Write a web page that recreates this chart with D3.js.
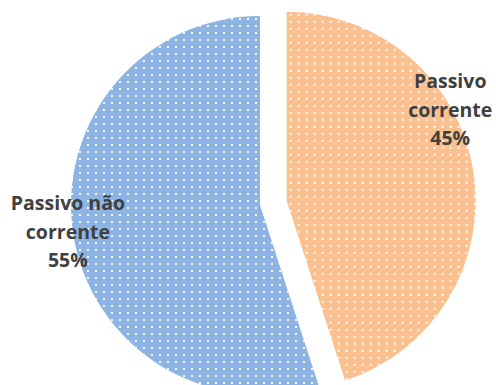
<!DOCTYPE html>
<html>
<head>
<meta charset="utf-8">
<script src="https://cdn.jsdelivr.net/npm/d3@7"></script>
<style>
  html, body { margin: 0; padding: 0; background: #ffffff; }
  svg { display: block; }
</style>
</head>
<body>
<svg id="chart" width="496" height="385"></svg>
<script>
// Composição do passivo
const categories = ["Passivo corrente", "Passivo não corrente"];
const values = [45, 55];
const labelLines = [["Passivo", "corrente", "45%"], ["Passivo não", "corrente", "55%"]];
const colors = ["#FAC090", "#8DB4E2"];
const explode = [27, 0];

const width = 496, height = 385;
const cx = 260, cy = 205, radius = 189;

const svg = d3.select("#chart");
const defs = svg.append("defs");

// dotted fill, one pattern per slice colour
colors.forEach((c, i) => {
  const p = defs.append("pattern")
    .attr("id", "dots" + i)
    .attr("patternUnits", "userSpaceOnUse")
    .attr("width", 8).attr("height", 7);
  p.append("rect").attr("width", 8).attr("height", 7).attr("fill", c);
  p.append("rect").attr("x", 3).attr("y", 2).attr("width", 2).attr("height", 2)
    .attr("fill", "#ffffff").attr("opacity", 0.9);
});

const pie = d3.pie().sort(null).startAngle(0).endAngle(2 * Math.PI);
const arcs = pie(values);
const arc = d3.arc().innerRadius(0).outerRadius(radius);

const g = svg.append("g").attr("transform", `translate(${cx},${cy})`);

function offset(d, i) {
  const a = (d.startAngle + d.endAngle) / 2;
  return [Math.sin(a) * explode[i], -Math.cos(a) * explode[i]];
}

g.selectAll("path.slice")
  .data(arcs)
  .join("path")
  .attr("class", "slice")
  .attr("d", arc)
  .attr("fill", (d, i) => `url(#dots${i})`)
  .attr("transform", (d, i) => {
    const [ox, oy] = offset(d, i);
    return `translate(${ox},${oy})`;
  });

// data labels: angle (from 12 o'clock, clockwise) and distance from slice centre
const labelAngle = [61, 262];
const labelDist = [187, 194];
const lineH = 28.5;

arcs.forEach((d, i) => {
  const [ox, oy] = offset(d, i);
  const a = labelAngle[i] * Math.PI / 180;
  const lx = ox + Math.sin(a) * labelDist[i];
  const ly = oy - Math.cos(a) * labelDist[i];
  const t = g.append("text")
    .attr("text-anchor", "middle")
    .attr("font-family", "'Open Sans', sans-serif")
    .attr("font-weight", "bold")
    .attr("font-size", 19.5)
    .attr("fill", "#404040");
  labelLines[i].forEach((line, k) => {
    t.append("tspan")
      .attr("x", lx)
      .attr("y", ly + (k - (labelLines[i].length - 1) / 2) * lineH)
      .attr("dy", "0.35em")
      .text(line);
  });
});
</script>
</body>
</html>
